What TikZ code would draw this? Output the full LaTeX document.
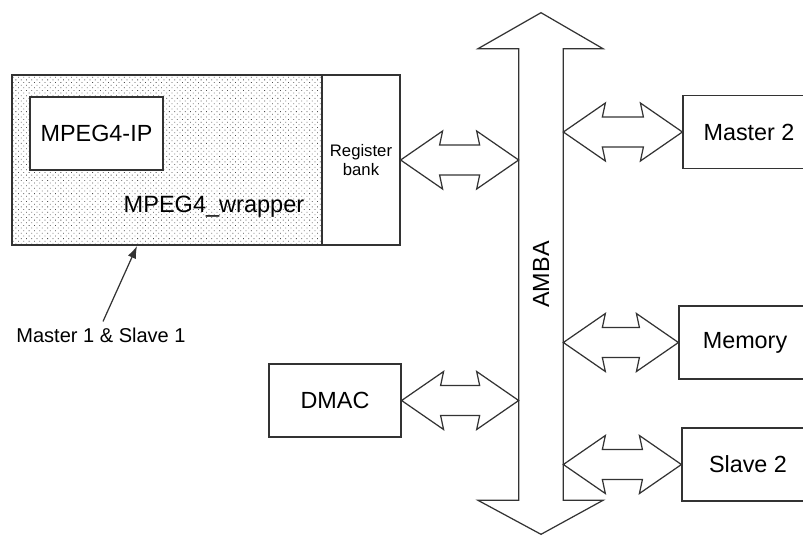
\documentclass[tikz,border=0pt]{standalone}
\usepackage{fontspec}
\setmainfont{Liberation Sans}
\usetikzlibrary{patterns.meta,calc,arrows.meta}

\tikzset{
  box/.style={draw=black!80,line width=0.7pt,minimum width=2.64cm,minimum height=1.46cm,
    font=\fontsize{13.3}{16}\selectfont},
  dblarrow/.style={draw=black!80,line width=0.7pt,fill=white,line join=miter,
    to path={let \p1=(\tikztostart), \p2=(\tikztotarget) in
      -- (\x1+0.84cm,\y1+0.58cm) -- (\x1+0.78cm,\y1+0.3cm) -- (\x2-0.78cm,\y1+0.3cm)
      -- (\x2-0.84cm,\y1+0.58cm) -- (\x2,\y1) -- (\x2-0.84cm,\y1-0.58cm)
      -- (\x2-0.78cm,\y1-0.3cm) -- (\x1+0.78cm,\y1-0.3cm) -- (\x1+0.84cm,\y1-0.58cm) -- cycle}}
}

\begin{document}
\begin{tikzpicture}[x=0.02cm,y=-0.02cm]
\useasboundingbox (0,0) rectangle (803,535);
\clip (0,0) rectangle (803,535);
% wrapper with register bank
\node[box,minimum width=6.2cm,minimum height=3.4cm,
  pattern={Dots[distance=2.13pt,angle=45,radius=0.32pt]},pattern color=black!70] (wrapper) at (167,160) {};
\node[box,minimum width=1.56cm,minimum height=3.4cm,font=\fontsize{9.5}{10.6}\selectfont,
  align=center] (regbank) at (361,160) {Register\\bank};
\node[box,fill=white,minimum width=2.66cm] (ip) at (96.5,133.5) {MPEG4-IP};
\node[font=\fontsize{13.4}{16}\selectfont] (wraptxt) at (214,207) {MPEG4\_wrapper};
% bus
\node[minimum width=0.88cm,minimum height=9.02cm,inner sep=0pt] (bus) at (541,274.5) {};
\draw[draw=black!80,line width=0.7pt,line join=miter]
  ($(bus.north)+(0,-36)$) -- ($(bus.north)+(62,0)$) -- (bus.north east) -- (bus.south east)
  -- ($(bus.south)+(62,0)$) -- ($(bus.south)+(0,34)$) -- ($(bus.south)+(-63,0)$)
  -- (bus.south west) -- (bus.north west) -- ($(bus.north)+(-63,0)$) -- cycle;
\node[rotate=90,font=\fontsize{13.3}{16}\selectfont] (amba) at (bus.center) {AMBA};
% other blocks
\node[box] (dmac) at (335,400.5) {DMAC};
\node[box] (master2) at (749,132) {Master 2};
\node[box] (memory) at (745,342.5) {Memory};
\node[box] (slave2) at (748,464.5) {Slave 2};
% links to the bus
\draw[dblarrow] (regbank.east) to (bus.west |- regbank.east);
\draw[dblarrow] (dmac.east) to (bus.west |- dmac.east);
\draw[dblarrow] (bus.east |- master2.west) to (master2.west);
\draw[dblarrow] (bus.east |- memory.west) to (memory.west);
\draw[dblarrow] (bus.east |- slave2.west) to (slave2.west);
% annotation
\node[font=\fontsize{11.4}{14}\selectfont] (m1s1) at (101,335) {Master 1 \& Slave 1};
\coordinate (wraptip) at (137,246);
\draw[black!80,line width=0.7pt,-{Latex[length=7pt,width=5pt]}] ([xshift=0.04cm]m1s1.north) -- (wraptip);
\end{tikzpicture}
\end{document}
